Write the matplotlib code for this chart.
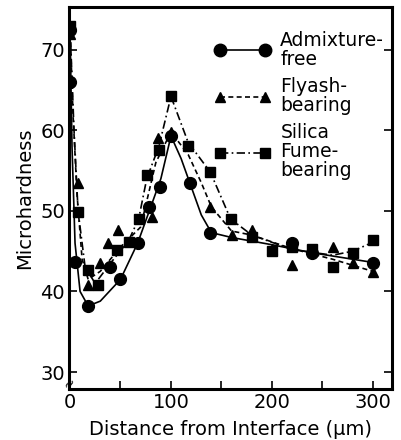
import numpy as np
import matplotlib
matplotlib.use("Agg")
import matplotlib.pyplot as plt

# marker data (distance um, microhardness)
af_x = [0, 0, 5, 18, 40, 50, 67, 78, 89, 100, 119, 139, 220, 240, 300]
af_y = [72.5, 66, 43.7, 38.2, 43, 41.5, 46, 50.5, 53, 59.3, 53.5, 47.3, 46, 44.8, 43.5]

fa_x = [0, 8, 18, 30, 38, 48, 81, 87, 100, 139, 160, 180, 200, 220, 260, 280, 300]
fa_y = [72, 53.5, 40.8, 43.5, 46, 47.6, 49.3, 59, 59.8, 50.5, 47, 47.6, 45.3, 43.3, 45.5, 43.5, 42.4]

sf_x = [0, 8, 18, 28, 47, 58, 68, 76, 88, 100, 117, 139, 159, 180, 200, 220, 240, 260, 280, 300]
sf_y = [73, 49.9, 42.7, 40.8, 45.2, 46.2, 49, 54.5, 57.6, 64.3, 58, 54.8, 49, 46.8, 45, 45.5, 45.3, 43, 44.8, 46.4]

# fitted curves
af_cx = [0, 2, 5, 10, 18, 30, 50, 67, 80, 90, 100, 110, 120, 130, 140, 160, 200, 240, 300]
af_cy = [73, 58, 46, 40, 38.2, 38.8, 41.5, 46, 50.5, 54, 59.3, 56.5, 53, 49.5, 47.3, 46.7, 45.8, 44.8, 43.6]

fa_cx = [0, 3, 7, 12, 18, 30, 50, 70, 85, 100, 117, 130, 140, 160, 180, 220, 260, 305]
fa_cy = [73, 62, 52, 44, 41.5, 42.5, 45.5, 48, 56, 59.8, 57, 53.5, 50.5, 47.5, 47, 45.3, 44, 42.3]

sf_cx = [0, 4, 8, 15, 25, 40, 58, 68, 76, 88, 100, 117, 139, 159, 180, 220, 260, 280, 305]
sf_cy = [73, 60, 50, 43, 41, 43.5, 46.3, 49, 54, 58, 64.2, 58.5, 54.8, 49, 47, 45.2, 44.5, 45, 46.4]

fig = plt.figure(figsize=(4.01, 4.40), dpi=100)
ax = fig.add_axes([0.172, 0.116, 0.806, 0.868])

ax.plot(af_cx, af_cy, color="black", lw=1.2, ls="-")
ax.plot(fa_cx, fa_cy, color="black", lw=1.2, ls=(0, (3, 2)))
ax.plot(sf_cx, sf_cy, color="black", lw=1.2, ls=(0, (5, 2, 1, 2)))

ax.plot(af_x, af_y, "o", color="black", ms=8.5)
ax.plot(fa_x, fa_y, "^", color="black", ms=7.5)
ax.plot(sf_x, sf_y, "s", color="black", ms=7)

# legend entries
h1, = ax.plot([], [], "o-", color="black", ms=9, lw=1.2)
h2, = ax.plot([], [], "^", color="black", ms=7.5, lw=1.2, ls=(0, (3, 2)))
h3, = ax.plot([], [], "s", color="black", ms=7, lw=1.2, ls=(0, (5, 2, 1, 2)))
leg = ax.legend([h1, h2, h3], ["Admixture-\nfree", "Flyash-\nbearing", "Silica\nFume-\nbearing"],
                loc="upper right", bbox_to_anchor=(1.01, 0.968), frameon=False,
                numpoints=2, handlelength=3.0, handletextpad=0.5, labelspacing=0.45,
                fontsize=13.5, borderaxespad=0.2)
for t in leg.get_texts():
    t.set_linespacing(1.0)

ax.set_xlim(-1, 319)
ax.set_ylim(27.9, 75.3)
ax.set_xticks([0, 50, 100, 150, 200, 250, 300])
ax.set_xticklabels(["0", "", "100", "", "200", "", "300"])
ax.set_yticks([30, 40, 50, 60, 70])
ax.tick_params(direction="in", length=6, width=1.2, labelsize=14, right=True, pad=3)

for s in ax.spines.values():
    s.set_linewidth(2.2)

ax.set_xlabel("Distance from Interface (\u03bcm)", fontsize=14, labelpad=6)
ax.set_ylabel("Microhardness", fontsize=14, labelpad=4)

# axis break mark
ax.text(0, 28.6, "\u2248", rotation=60, fontsize=10, ha="center", va="center")

fig.savefig("out.png", dpi=100)
